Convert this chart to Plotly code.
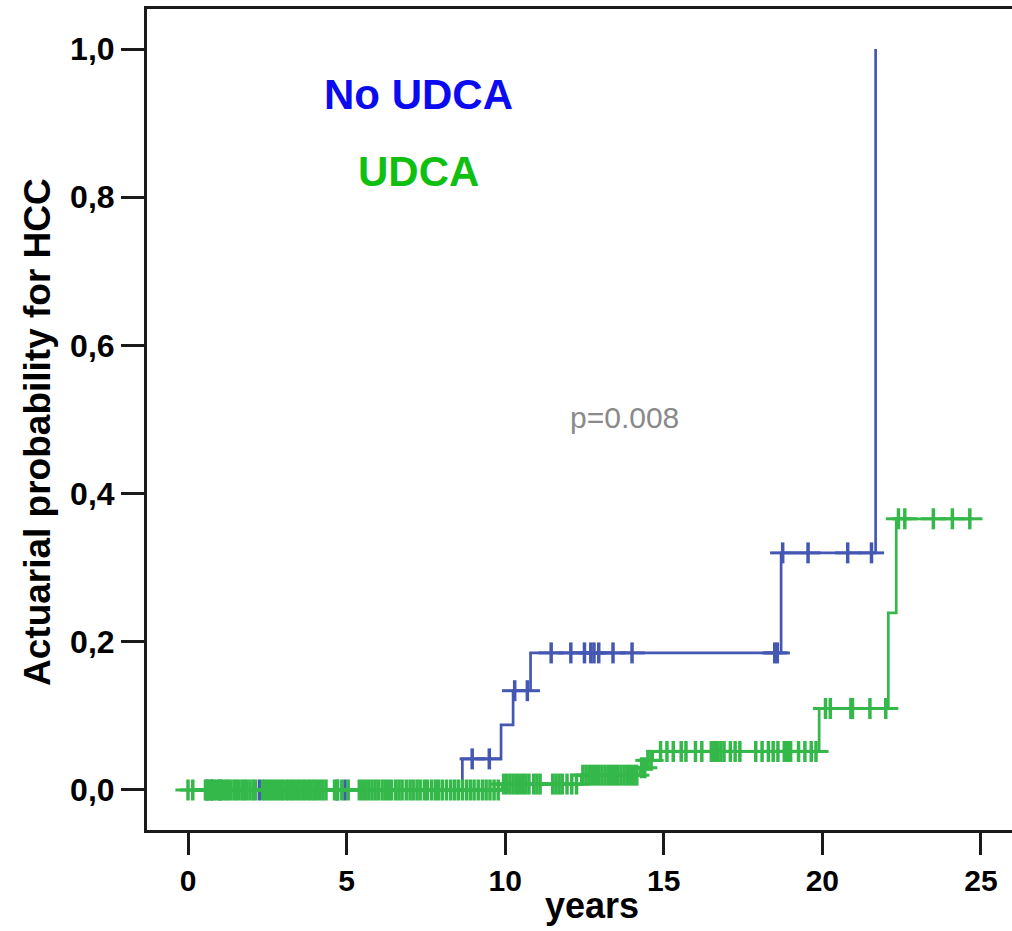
import numpy as np
import plotly.graph_objects as go

# ---- data ----
# No UDCA: event times (years) and cumulative probability after each step
blue_step_t = [0.0, 8.65, 9.87, 10.25, 10.8, 18.7, 21.68]
blue_step_p = [0.0, 0.042, 0.088, 0.134, 0.185, 0.32, 1.0]
blue_censor_t = [0.6, 0.75, 1.0, 2.25, 4.7, 4.95, 8.96, 9.5, 10.3, 10.7,
                 11.45, 12.07, 12.5, 12.7, 12.8, 12.95, 13.4, 14.0,
                 18.5, 18.58, 18.75, 19.55, 20.8, 21.55]

# UDCA
green_step_t = [0.0, 9.9, 12.4, 14.25, 14.45, 14.65, 19.9, 22.08, 22.33]
green_step_p = [0.0, 0.008, 0.02, 0.03, 0.04, 0.052, 0.11, 0.239, 0.366]
green_end_t = 24.75
green_censor_t = [
    0.0, 0.15, 0.55, 0.62, 0.68, 0.75, 0.82, 0.9, 0.97, 1.05, 1.12, 1.2, 1.27,
    1.35, 1.45, 1.52, 1.6, 1.7, 1.78, 1.85, 1.95, 2.05, 2.12, 2.35, 2.42, 2.5,
    2.58, 2.66, 2.75, 2.83, 2.92, 3.0, 3.1, 3.18, 3.27, 3.35, 3.45, 3.53, 3.62,
    3.7, 3.8, 3.88, 3.97, 4.05, 4.15, 4.25, 4.35, 4.62, 4.72, 4.85, 5.05, 5.4,
    5.5, 5.6, 5.7, 5.8, 5.9, 6.0, 6.12, 6.22, 6.32, 6.42, 6.55, 6.65, 6.75,
    6.88, 7.0, 7.1, 7.22, 7.32, 7.45, 7.55, 7.68, 7.8, 7.9, 8.02, 8.15, 8.28,
    8.4, 8.52, 8.65, 8.78, 8.9, 9.02, 9.15, 9.28, 9.4, 9.52, 9.65, 9.78,
    9.95, 10.05, 10.15, 10.25, 10.35, 10.45, 10.55, 10.65, 10.75, 10.9, 11.0,
    11.1, 11.5, 11.6, 11.7, 11.8, 11.95, 12.1, 12.25,
    12.45, 12.55, 12.65, 12.75, 12.85, 12.95, 13.05, 13.15, 13.25, 13.35,
    13.45, 13.55, 13.65, 13.75, 13.85, 13.95, 14.05, 14.15,
    14.3, 14.4, 14.5, 14.6,
    14.9, 15.1, 15.3, 15.55, 15.7, 16.0, 16.2, 16.5, 16.6, 16.7, 16.8, 16.9,
    17.1, 17.25, 17.4, 17.9, 18.1, 18.3, 18.45, 18.6, 18.8, 18.9, 19.0, 19.25,
    19.45, 19.65, 19.8,
    20.1, 20.25, 20.9, 20.95, 21.5, 22.0,
    22.4, 22.6, 23.5, 24.1, 24.65]

x_ticks = [0, 5, 10, 15, 20, 25]
y_ticks = [0.0, 0.2, 0.4, 0.6, 0.8, 1.0]
y_tick_labels = ["0,0", "0,2", "0,4", "0,6", "0,8", "1,0"]

BLUE_LINE = "#4457b3"
GREEN_LINE = "#35b84a"


def level_at(step_t, step_p, t):
    idx = np.searchsorted(np.array(step_t), np.array(t), side="right") - 1
    return list(np.array(step_p)[idx])


fig = go.Figure()


def add_group(step_t, step_p, line_x, line_y, censor_t, color):
    fig.add_trace(go.Scatter(x=line_x, y=line_y, mode="lines",
                             line=dict(color=color, width=2.7, shape="hv"),
                             hoverinfo="skip", showlegend=False))
    cy = level_at(step_t, step_p, censor_t)
    fig.add_trace(go.Scatter(x=censor_t, y=cy, mode="markers",
                             marker=dict(symbol="line-ns", size=15,
                                         line=dict(color=color, width=3.5)),
                             hoverinfo="skip", showlegend=False))
    fig.add_trace(go.Scatter(x=censor_t, y=cy, mode="markers",
                             marker=dict(symbol="line-ew", size=18,
                                         line=dict(color=color, width=3)),
                             hoverinfo="skip", showlegend=False))


add_group(blue_step_t, blue_step_p, blue_step_t, blue_step_p,
          blue_censor_t, BLUE_LINE)
add_group(green_step_t, green_step_p, green_step_t + [green_end_t],
          green_step_p + [green_step_p[-1]], green_censor_t, GREEN_LINE)

font_main = "Arial, Liberation Sans, sans-serif"

fig.update_layout(
    width=1012, height=931,
    margin=dict(l=147, r=0, t=9, b=101),
    paper_bgcolor="white", plot_bgcolor="white",
    font=dict(family=font_main, color="black"),
    xaxis=dict(range=[-1.293, 25.98], tickvals=x_ticks,
               ticktext=[str(v) for v in x_ticks],
               showgrid=False, zeroline=False,
               showline=True, linecolor="#1a1a1a", linewidth=3, mirror=True,
               ticks="outside", ticklen=22, tickwidth=3, tickcolor="#1a1a1a",
               tickfont=dict(size=30, family=font_main, color="black", weight="bold")),
    yaxis=dict(range=[-0.054, 1.054], tickvals=y_ticks, ticktext=y_tick_labels,
               showgrid=False, zeroline=False,
               showline=True, linecolor="#1a1a1a", linewidth=3,
               ticks="outside", ticklen=23, tickwidth=3, tickcolor="#1a1a1a",
               tickfont=dict(size=32, family=font_main, color="black", weight="bold")),
)

annos = [
    dict(text="No UDCA", x=0.3133, y=0.8953, font=dict(size=42, color="#0b0bf0", weight="bold")),
    dict(text="UDCA", x=0.3133, y=0.8015, font=dict(size=42, color="#10c010", weight="bold")),
    dict(text="p=0.008", x=0.5526, y=0.503, font=dict(size=30, color="#8a8a8a")),
    dict(text="years", x=0.5145, y=-0.0925, font=dict(size=36, color="black", weight="bold")),
    dict(text="Actuarial probability for HCC", x=-0.126, y=0.4848, textangle=-90,
         font=dict(size=37, color="black", weight="bold")),
]
for a in annos:
    a["font"]["family"] = font_main
    fig.add_annotation(xref="paper", yref="paper", showarrow=False,
                       xanchor="center", yanchor="middle", **a)

fig.write_html("out.html")
